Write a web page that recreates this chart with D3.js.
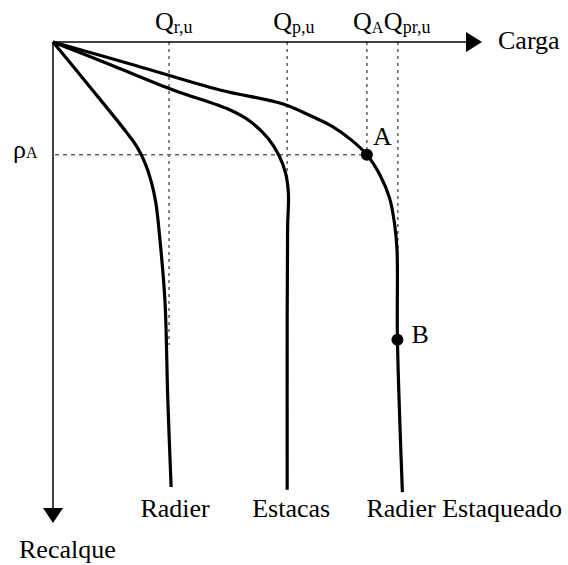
<!DOCTYPE html>
<html lang="pt">
<head>
<meta charset="UTF-8">
<title>Carga x Recalque</title>
<script src="https://cdn.jsdelivr.net/npm/d3@7"></script>
<style>
    body { margin: 0; background: #fff; }
    text { font-family: "Liberation Serif", "Times New Roman", serif; fill: #000; }
</style>
</head>
<body>
<svg id="mainsvg" width="568" height="565"></svg>
<script>
    // curvas carga x recalque, [carga, recalque] em unidades arbitrarias (0-100)
    const radierPts = [[0,0],[9.0,9.7],[17.9,19.5],[20.4,22.6],[22.3,26.0],[23.8,30.0],[24.9,34.5],[25.9,42.5],[27.1,55.4],[27.8,76.8],[28.6,95.5]];
    const estacasPts = [[0,0],[14.5,5.1],[29.1,10.3],[42.9,14.6],[47.7,17.0],[52.0,20.6],[54.7,24.3],[56.3,28.1],[57.0,32.5],[56.8,40.0],[56.7,60.0],[56.7,96.1]];
    const estaqueadoPts = [[0,0],[20.2,5.1],[40.4,10.3],[55.7,13.3],[63.0,16.1],[67.6,18.1],[72.2,21.0],[76.0,24.2],[79.2,28.6],[81.5,33.5],[82.7,39.0],[83.3,44.6],[83.4,63.9],[84.6,96.6]];
    const curvaNomes = ["Radier", "Estacas", "Radier Estaqueado"];

    // cargas de referencia no eixo horizontal
    const refNomes = ["Q", "Q", "Q", "Q"];
    const refSubs = ["r,u", "p,u", "A", "pr,u"];
    const refCargas = [28.1, 56.7, 76.0, 83.5];
    const refAte = [65, 30, 24.2, 46];   // recalque ate onde a linha tracejada desce

    const rhoA = 24.2;
    const pontos = [{nome: "A", carga: 76.0, recalque: 24.2}, {nome: "B", carga: 83.4, recalque: 63.9}];

    const svg = d3.select("#mainsvg");
    const x = d3.scaleLinear().domain([0, 100]).range([53, 466]);
    const y = d3.scaleLinear().domain([0, 100]).range([42, 508]);

    const g = svg.append("g");

    // linhas tracejadas
    g.selectAll(".ref")
        .data(refCargas)
        .join("line")
        .attr("class", "ref")
        .attr("x1", d => x(d)).attr("x2", d => x(d))
        .attr("y1", y(0)).attr("y2", (d, i) => y(refAte[i]))
        .attr("stroke", "#666")
        .attr("stroke-width", 1.6)
        .attr("stroke-dasharray", "3,4");

    g.append("line")
        .attr("x1", x(0.5)).attr("x2", x(76.0))
        .attr("y1", y(rhoA)).attr("y2", y(rhoA))
        .attr("stroke", "#666")
        .attr("stroke-width", 1.6)
        .attr("stroke-dasharray", "4,4");

    // eixos
    g.append("line").attr("x1", x(0)).attr("x2", 468).attr("y1", y(0)).attr("y2", y(0))
        .attr("stroke", "#000").attr("stroke-width", 1.5);
    g.append("path").attr("d", "M466,32 L482,42 L466,52 Z").attr("fill", "#000");
    g.append("line").attr("x1", x(0)).attr("x2", x(0)).attr("y1", y(0)).attr("y2", 510)
        .attr("stroke", "#000").attr("stroke-width", 1.5);
    g.append("path").attr("d", "M43,508 L53,523 L63,508 Z").attr("fill", "#000");

    g.append("text").attr("x", 498).attr("y", 49).attr("font-size", 26).text("Carga");
    g.append("text").attr("x", 19).attr("y", 558).attr("font-size", 26).text("Recalque");

    const rho = g.append("text").attr("x", 13).attr("y", 158).attr("font-size", 26);
    rho.append("tspan").text("ρ");
    rho.append("tspan").attr("font-size", 16).text("A");

    // rotulos das cargas
    refCargas.forEach((c, i) => {
        const t = g.append("text").attr("x", x(c) - 14).attr("y", 30).attr("font-size", 26);
        t.append("tspan").text(refNomes[i]);
        t.append("tspan").attr("font-size", refSubs[i] === "A" ? 16 : 18).attr("dy", 3).text(refSubs[i]);
    });

    // curvas
    const line = d3.line()
        .x(d => x(d[0]))
        .y(d => y(d[1]))
        .curve(d3.curveCatmullRom.alpha(0.5));

    const curvas = [radierPts, estacasPts, estaqueadoPts];
    g.selectAll(".curva")
        .data(curvas)
        .join("path")
        .attr("class", "curva")
        .attr("fill", "none")
        .attr("stroke", "#000")
        .attr("stroke-width", 3.2)
        .attr("stroke-linejoin", "round")
        .attr("d", d => line(d));

    curvas.forEach((c, i) => {
        const last = c[c.length - 1];
        const isLast = i === curvas.length - 1;
        g.append("text")
            .attr("x", isLast ? x(last[0]) - 36 : x(last[0]) + 4)
            .attr("y", 517)
            .attr("font-size", 26)
            .attr("text-anchor", isLast ? "start" : "middle")
            .text(curvaNomes[i]);
    });

    // pontos A e B
    g.selectAll(".ponto")
        .data(pontos)
        .join("circle")
        .attr("class", "ponto")
        .attr("cx", d => x(d.carga))
        .attr("cy", d => y(d.recalque))
        .attr("r", 6)
        .attr("fill", "#000");

    g.append("text").attr("x", x(pontos[0].carga) + 6).attr("y", 145).attr("font-size", 26).text(pontos[0].nome);
    g.append("text").attr("x", x(pontos[1].carga) + 14).attr("y", 343).attr("font-size", 26).text(pontos[1].nome);
</script>
</body>
</html>
